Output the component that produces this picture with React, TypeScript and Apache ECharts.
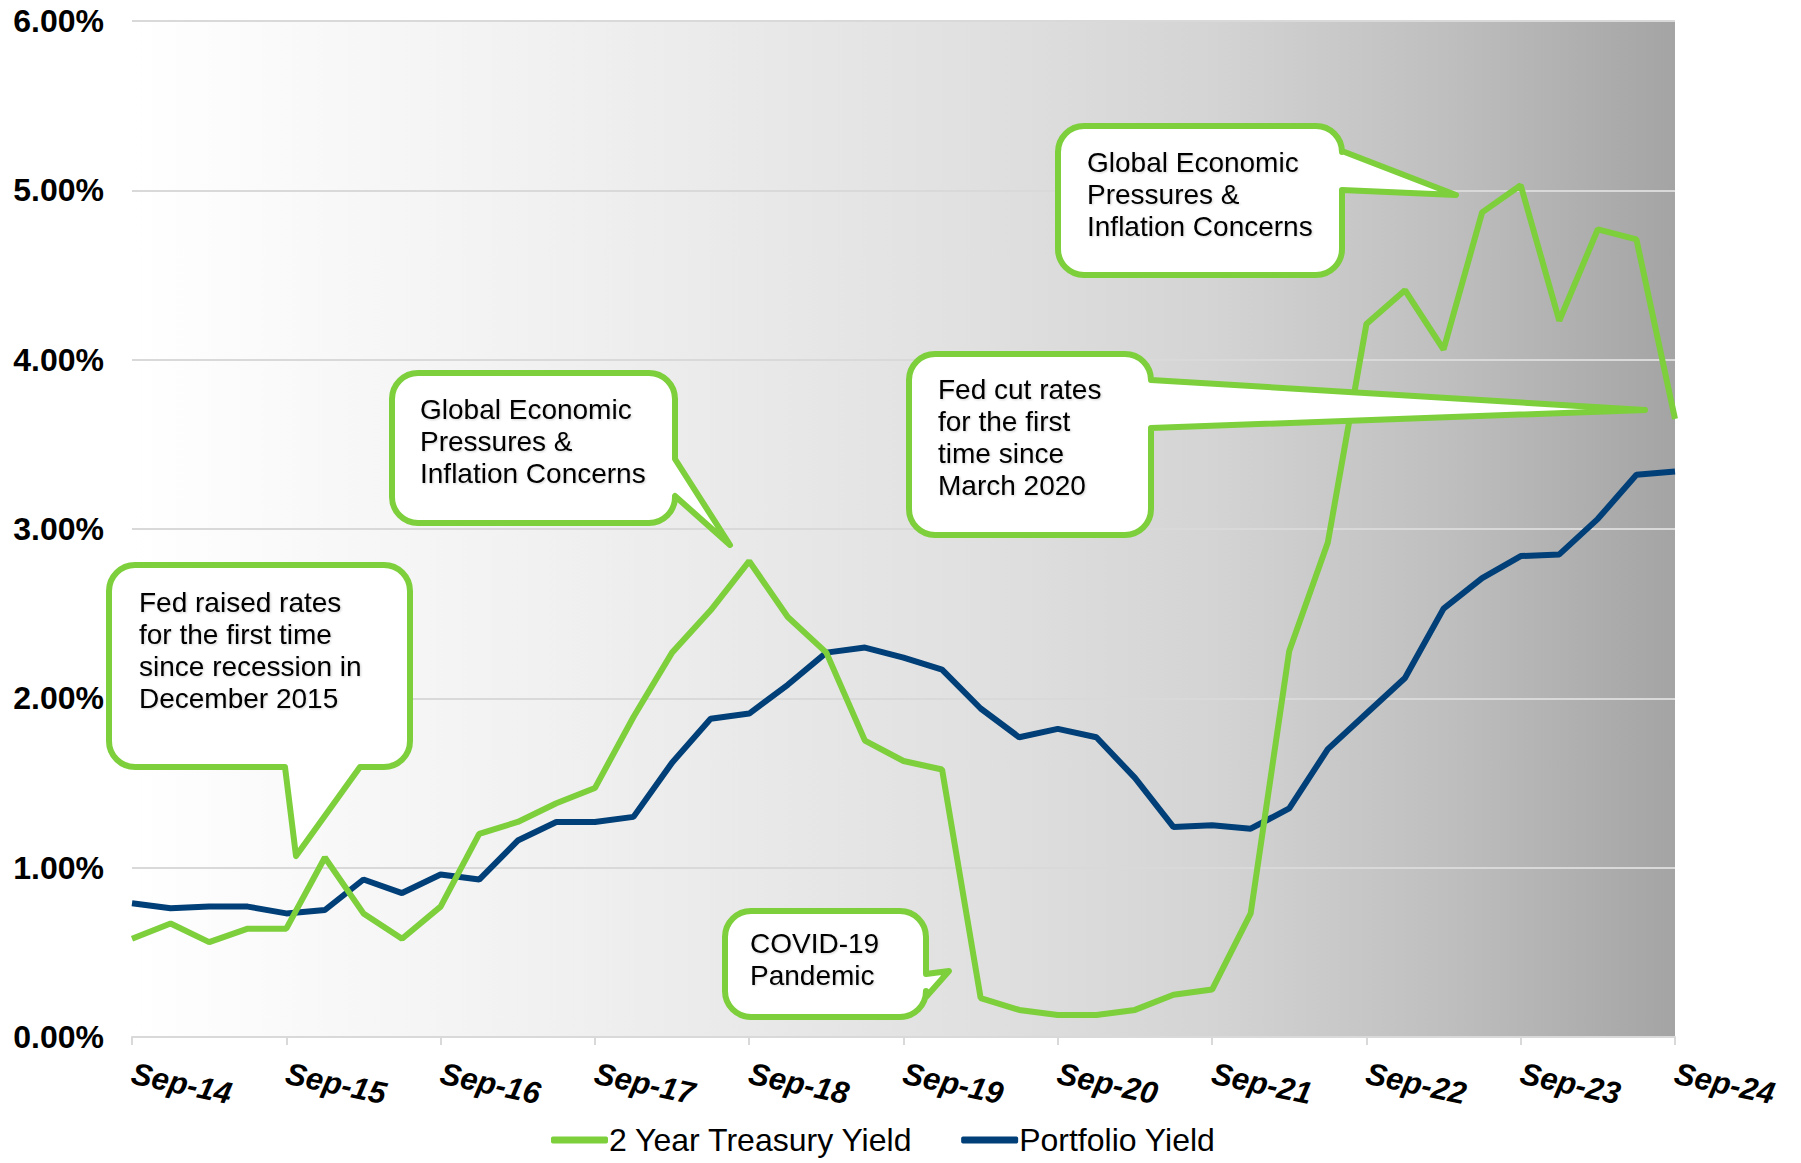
import React, { useEffect, useRef } from "react";
import * as echarts from "echarts";

const categories = [
  "Sep-14", "Dec-14", "Mar-15", "Jun-15",
  "Sep-15", "Dec-15", "Mar-16", "Jun-16",
  "Sep-16", "Dec-16", "Mar-17", "Jun-17",
  "Sep-17", "Dec-17", "Mar-18", "Jun-18",
  "Sep-18", "Dec-18", "Mar-19", "Jun-19",
  "Sep-19", "Dec-19", "Mar-20", "Jun-20",
  "Sep-20", "Dec-20", "Mar-21", "Jun-21",
  "Sep-21", "Dec-21", "Mar-22", "Jun-22",
  "Sep-22", "Dec-22", "Mar-23", "Jun-23",
  "Sep-23", "Dec-23", "Mar-24", "Jun-24",
  "Sep-24",
];

const treasuryYield = [
  0.58, 0.67, 0.56, 0.64,
  0.64, 1.06, 0.73, 0.58,
  0.77, 1.20, 1.27, 1.38,
  1.47, 1.89, 2.27, 2.52,
  2.81, 2.48, 2.27, 1.75,
  1.63, 1.58, 0.23, 0.16,
  0.13, 0.13, 0.16, 0.25,
  0.28, 0.73, 2.28, 2.92,
  4.21, 4.41, 4.06, 4.87,
  5.03, 4.23, 4.77, 4.71,
  3.65,
];

const portfolioYield = [
  0.79, 0.76, 0.77, 0.77,
  0.73, 0.75, 0.93, 0.85,
  0.96, 0.93, 1.16, 1.27,
  1.27, 1.30, 1.62, 1.88,
  1.91, 2.08, 2.27, 2.30,
  2.24, 2.17, 1.94, 1.77,
  1.82, 1.77, 1.53, 1.24,
  1.25, 1.23, 1.35, 1.70,
  1.91, 2.12, 2.53, 2.71,
  2.84, 2.85, 3.06, 3.32,
  3.34,
];

const yTicks = [0, 1, 2, 3, 4, 5, 6];
const seriesNames = ["2 Year Treasury Yield", "Portfolio Yield"];

const GREEN = "#7dcf3c";
const NAVY = "#003f77";

type Tail = { edge: "right" | "bottom"; a: [number, number]; tip: [number, number]; b: [number, number] };
type Callout = { name: string; box: [number, number, number, number]; tail: Tail; text: string; tx: number; ty: number };

const callouts: Callout[] = [
  {
    name: "calloutFedRaise",
    box: [109, 565, 301, 202],
    tail: { edge: "bottom", a: [360, 767], tip: [296, 856], b: [285, 767] },
    text: "Fed raised rates\nfor the first time\nsince recession in\nDecember 2015",
    tx: 139, ty: 586,
  },
  {
    name: "calloutGlobal1",
    box: [392, 373, 283, 150],
    tail: { edge: "right", a: [675, 459], tip: [730, 545], b: [675, 496] },
    text: "Global Economic\nPressures &\nInflation Concerns",
    tx: 420, ty: 393,
  },
  {
    name: "calloutFedCut",
    box: [909, 354, 242, 181],
    tail: { edge: "right", a: [1151, 380], tip: [1645, 410], b: [1151, 428] },
    text: "Fed cut rates\nfor the first\ntime since\nMarch 2020",
    tx: 938, ty: 373,
  },
  {
    name: "calloutGlobal2",
    box: [1058, 126, 284, 149],
    tail: { edge: "right", a: [1342, 151], tip: [1456, 195], b: [1342, 190] },
    text: "Global Economic\nPressures &\nInflation Concerns",
    tx: 1087, ty: 146,
  },
  {
    name: "calloutCovid",
    box: [725, 911, 201, 106],
    tail: { edge: "right", a: [926, 974], tip: [949, 971], b: [926, 997] },
    text: "COVID-19\nPandemic",
    tx: 750, ty: 927,
  },
];

function calloutPath(box: [number, number, number, number], r: number, t: Tail): string {
  const [x, y, w, h] = box;
  const R = x + w;
  const B = y + h;
  let d = `M ${x + r} ${y} L ${R - r} ${y} A ${r} ${r} 0 0 1 ${R} ${y + r} `;
  if (t.edge === "right") d += `L ${R} ${t.a[1]} L ${t.tip[0]} ${t.tip[1]} L ${R} ${t.b[1]} `;
  d += `L ${R} ${B - r} A ${r} ${r} 0 0 1 ${R - r} ${B} `;
  if (t.edge === "bottom") d += `L ${t.a[0]} ${B} L ${t.tip[0]} ${t.tip[1]} L ${t.b[0]} ${B} `;
  d += `L ${x + r} ${B} A ${r} ${r} 0 0 1 ${x} ${B - r} L ${x} ${y + r} A ${r} ${r} 0 0 1 ${x + r} ${y} Z`;
  return d;
}

let registered = false;
function registerCallouts() {
  if (registered) return;
  registered = true;
  callouts.forEach((c) => {
    echarts.graphic.registerShape(c.name, echarts.graphic.extendPath(calloutPath(c.box, 26, c.tail), {}));
  });
}

export default function App() {
  const ref = useRef<HTMLDivElement>(null);

  useEffect(() => {
    document.body.style.margin = "0";
    registerCallouts();
    const chart = echarts.init(ref.current!, undefined, { renderer: "svg" });

    const graphics: any[] = [];
    callouts.forEach((c) => {
      graphics.push({
        type: c.name,
        x: 0,
        y: 0,
        z: 100,
        style: { fill: "#ffffff", stroke: GREEN, lineWidth: 6, lineJoin: "round" },
      });
      graphics.push({
        type: "text",
        x: c.tx,
        y: c.ty,
        z: 101,
        style: {
          text: c.text,
          fill: "#000000",
          fontSize: 28,
          fontFamily: "Liberation Sans, Arial, sans-serif",
          lineHeight: 32,
          textVerticalAlign: "top",
          textShadowColor: "rgba(0,0,0,0.18)",
          textShadowBlur: 2,
          textShadowOffsetX: 1,
          textShadowOffsetY: 1,
        },
      });
    });

    chart.setOption({
      animation: false,
      backgroundColor: "#ffffff",
      grid: {
        left: 132,
        right: 126,
        top: 21,
        bottom: 126,
        show: true,
        borderWidth: 0,
        backgroundColor: new echarts.graphic.LinearGradient(0, 0, 1, 0, [
          { offset: 0, color: "#ffffff" },
          { offset: 0.3, color: "#efefef" },
          { offset: 0.55, color: "#e0e0e0" },
          { offset: 0.7, color: "#d4d4d4" },
          { offset: 0.85, color: "#bfbfbf" },
          { offset: 1, color: "#a4a4a4" },
        ]),
      },
      legend: {
        data: seriesNames,
        left: 551,
        top: 1124,
        padding: 0,
        icon: "roundRect",
        itemWidth: 57,
        itemHeight: 7,
        itemGap: 48,
        textStyle: {
          color: "#000000",
          fontSize: 32,
          lineHeight: 32,
          fontFamily: "'Liberation Sans Narrow', 'Arial Narrow', 'Liberation Sans', Arial, sans-serif",
          padding: [0, 0, 0, -4],
        },
      },
      xAxis: {
        type: "category",
        data: categories,
        boundaryGap: false,
        axisLine: { lineStyle: { color: "#d9d9d9", width: 2 } },
        axisTick: { show: true, interval: 3, length: 8, lineStyle: { color: "#d9d9d9", width: 2 } },
        axisLabel: {
          interval: 3,
          rotate: -12,
          margin: 36,
          color: "#000000",
          fontSize: 31,
          fontWeight: "bold",
          fontStyle: "italic",
          fontFamily: "Liberation Sans, Arial, sans-serif",
        },
        splitLine: { show: false },
      },
      yAxis: {
        type: "value",
        min: yTicks[0],
        max: yTicks[yTicks.length - 1],
        interval: 1,
        axisLine: { show: false },
        axisTick: { show: false },
        axisLabel: {
          formatter: (v: number) => v.toFixed(2) + "%",
          color: "#000000",
          fontSize: 32,
          fontWeight: "bold",
          fontFamily: "Liberation Sans, Arial, sans-serif",
          margin: 28,
        },
        splitLine: { lineStyle: { color: "#d9d9d9", width: 2 } },
      },
      series: [
        {
          name: seriesNames[0],
          type: "line",
          data: treasuryYield,
          symbol: "none",
          z: 4,
          color: GREEN,
          lineStyle: { color: GREEN, width: 6 },
        },
        {
          name: seriesNames[1],
          type: "line",
          data: portfolioYield,
          symbol: "none",
          z: 3,
          color: NAVY,
          lineStyle: { color: NAVY, width: 6 },
        },
      ],
      graphic: graphics,
    });

    return () => chart.dispose();
  }, []);

  return <div ref={ref} style={{ width: 1801, height: 1163 }} />;
}
